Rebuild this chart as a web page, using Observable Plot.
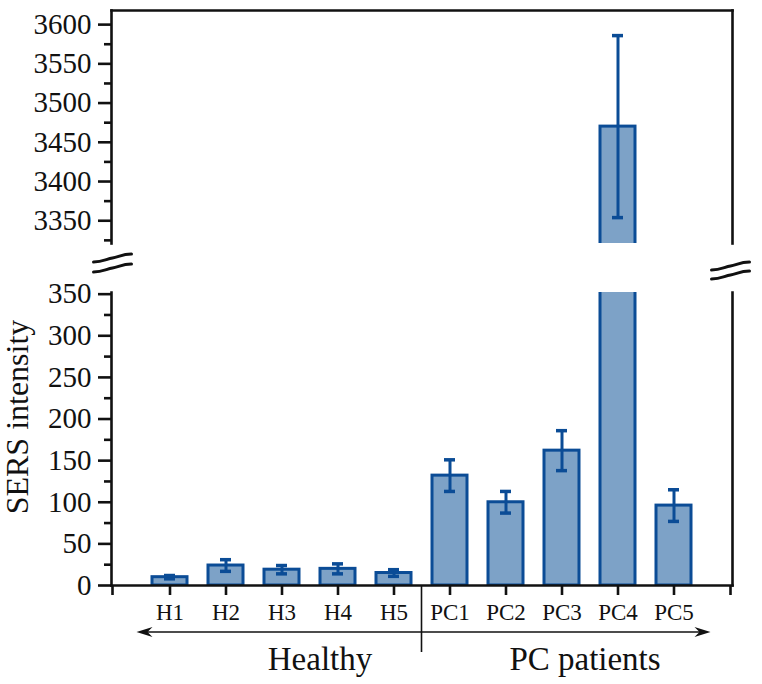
<!DOCTYPE html>
<html>
<head>
<meta charset="utf-8">
<script src="https://cdn.jsdelivr.net/npm/d3@7"></script>
<script src="https://cdn.jsdelivr.net/npm/@observablehq/plot@0.6"></script>
<style>
  body { margin: 0; background: #fff; }
  #chart { position: relative; width: 762px; height: 684px; }
  #chart svg { display: block; }
  #chart svg, #chart svg text, #chart svg g { font-family: "Liberation Serif", "DejaVu Serif", serif !important; font-variant: normal !important; }
</style>
</head>
<body>
<div id="chart"></div>
<script>
// ---- data ----
const samples = ["H1", "H2", "H3", "H4", "H5", "PC1", "PC2", "PC3", "PC4", "PC5"];
const means   = [10, 24, 19, 20, 15, 132, 100, 162, 3470, 96];
const errors  = [2, 7, 5, 6, 4, 19, 13, 24, 116, 19];
const groups  = ["Healthy", "PC patients"];
const groupMiddle = ["H3", "PC3"];
const lowTicks   = [0, 50, 100, 150, 200, 250, 300, 350];
const lowMinor   = [25, 75, 125, 175, 225, 275, 325];
const highTicks  = [3350, 3400, 3450, 3500, 3550, 3600];
const highMinor  = [3325, 3375, 3425, 3475, 3525, 3575];
const lowDomain  = [0, 352];
const highDomain = [3321, 3618];
const yLabel = "SERS intensity";

const data = samples.map((s, i) => ({sample: s, mean: means[i], err: errors[i]}));

// ---- styling ----
const font = "Liberation Serif, DejaVu Serif, serif";
const fillC = "#7da2c7";
const strokeC = "#0b4c96";
const axisW = 2.6;
const fmt = d => String(d);

const xScale = {type: "band", domain: samples, paddingInner: 0.38, paddingOuter: 0.19, insetLeft: 29, insetRight: 29};

function seriesMarks(yMin) {
  return [
    Plot.barY(data, {x: "sample", y: "mean", fill: fillC, stroke: strokeC, strokeWidth: 3, clip: true}),
    Plot.ruleX(data, {x: "sample", y1: d => d.mean - d.err, y2: d => d.mean + d.err, stroke: strokeC, strokeWidth: 3, clip: true}),
    Plot.tickY(data, {x: "sample", y: d => d.mean + d.err, stroke: strokeC, strokeWidth: 3.5, insetLeft: 12, insetRight: 12, clip: true}),
    Plot.tickY(data.filter(d => d.mean - d.err > yMin), {x: "sample", y: d => d.mean - d.err, stroke: strokeC, strokeWidth: 3.5, insetLeft: 12, insetRight: 12, clip: true})
  ];
}

const topPlot = Plot.plot({
  width: 762, height: 250,
  marginLeft: 111, marginRight: 30, marginTop: 10, marginBottom: 7,
  style: {fontFamily: font, background: "#fff", color: "#111", overflow: "visible"},
  x: {...xScale, axis: null},
  y: {domain: highDomain, axis: null},
  marks: [
    ...seriesMarks(highDomain[0]),
    Plot.axisY(highTicks, {tickSize: 13, tickPadding: 7, fontSize: 29, fontFamily: font, strokeWidth: axisW, label: null, tickFormat: fmt}),
    Plot.axisY(highMinor, {tickSize: 7, tickFormat: () => "", strokeWidth: axisW, label: null}),
    Plot.frame({anchor: "left", strokeWidth: axisW}),
    Plot.frame({anchor: "top", strokeWidth: axisW}),
    Plot.frame({anchor: "right", strokeWidth: axisW})
  ]
});

const bottomPlot = Plot.plot({
  width: 762, height: 434,
  marginLeft: 111, marginRight: 30, marginTop: 42, marginBottom: 99,
  style: {fontFamily: font, background: "#fff", color: "#111", overflow: "visible"},
  x: {...xScale, axis: null},
  y: {domain: lowDomain, axis: null},
  marks: [
    ...seriesMarks(lowDomain[0]),
    Plot.axisY(lowTicks, {tickSize: 13, tickPadding: 7, fontSize: 29, fontFamily: font, strokeWidth: axisW, label: null, tickFormat: fmt}),
    Plot.axisY(lowMinor, {tickSize: 7, tickFormat: () => "", strokeWidth: axisW, label: null}),
    Plot.axisX({tickSize: 10, tickPadding: 8, fontSize: 23, fontFamily: font, strokeWidth: axisW, label: null}),
    Plot.frame({anchor: "left", strokeWidth: axisW}),
    Plot.frame({anchor: "bottom", strokeWidth: axisW}),
    Plot.frame({anchor: "right", strokeWidth: axisW}),
    Plot.text([yLabel], {frameAnchor: "left", textAnchor: "middle", lineAnchor: "middle", rotate: -90, dx: -94, dy: -22, fontSize: 32, fontFamily: font, fill: "#111"}),
    Plot.text([groups[0]], {x: () => groupMiddle[0], frameAnchor: "bottom", lineAnchor: "bottom", dx: 38, dy: 84, fontSize: 33, fontFamily: font, fill: "#111"}),
    Plot.text([groups[1]], {x: () => groupMiddle[1], frameAnchor: "bottom", lineAnchor: "bottom", dx: 23, dy: 84, fontSize: 33, fontFamily: font, fill: "#111"})
  ]
});

const chart = document.getElementById("chart");
chart.append(topPlot, bottomPlot);

// ---- annotations placed through the plot's own scales ----
const sx = bottomPlot.scale("x");
const sy = bottomPlot.scale("y");
const bw = sx.bandwidth, step = sx.step;
const cx = v => sx.apply(v) + bw / 2;
const y0 = sy.apply(0);
const yTop = sy.apply(lowDomain[1]);
const left = cx(samples[0]) - step / 2 - 29;
const right = cx(samples[samples.length - 1]) + step / 2 + 29;
const sep = cx("H5") + step / 2;
const ink = "#111";
const svg = d3.select(bottomPlot.tagName.toLowerCase() === "svg" ? bottomPlot : bottomPlot.querySelector("svg"));
const g = svg.append("g");

// axis ends extending below the x-axis
[left, right].forEach(x => g.append("line").attr("x1", x).attr("x2", x).attr("y1", y0).attr("y2", y0 + 10).attr("stroke", ink).attr("stroke-width", axisW));

// group separator
g.append("line").attr("x1", sep).attr("x2", sep).attr("y1", y0).attr("y2", y0 + 67).attr("stroke", ink).attr("stroke-width", 1.6);

// arrows
const ay = y0 + 47;
const lTip = cx(samples[0]) - step / 2 - 5;
const rTip = cx(samples[samples.length - 1]) + step / 2 + 9;
g.append("line").attr("x1", sep).attr("x2", lTip + 8).attr("y1", ay).attr("y2", ay).attr("stroke", ink).attr("stroke-width", 1.6);
g.append("line").attr("x1", sep).attr("x2", rTip - 8).attr("y1", ay).attr("y2", ay).attr("stroke", ink).attr("stroke-width", 1.6);
g.append("path").attr("d", `M${lTip},${ay} L${lTip + 16},${ay - 5} L${lTip + 11},${ay} L${lTip + 16},${ay + 5} Z`).attr("fill", ink);
g.append("path").attr("d", `M${rTip},${ay} L${rTip - 16},${ay - 5} L${rTip - 11},${ay} L${rTip - 16},${ay + 5} Z`).attr("fill", ink);

// axis break marks
function breakMark(x, y) {
  const d = `M${x - 19},${y + 4} C${x - 10},${y + 4} ${x - 6},${y + 1} ${x},${y} S${x + 10},${y - 4} ${x + 19},${y - 4}`;
  g.append("path").attr("d", d).attr("fill", "none").attr("stroke", ink).attr("stroke-width", 3).attr("stroke-linecap", "round");
}
breakMark(left, yTop - 34);
breakMark(left, yTop - 24);
breakMark(right, yTop - 26);
breakMark(right, yTop - 17);
</script>
</body>
</html>
